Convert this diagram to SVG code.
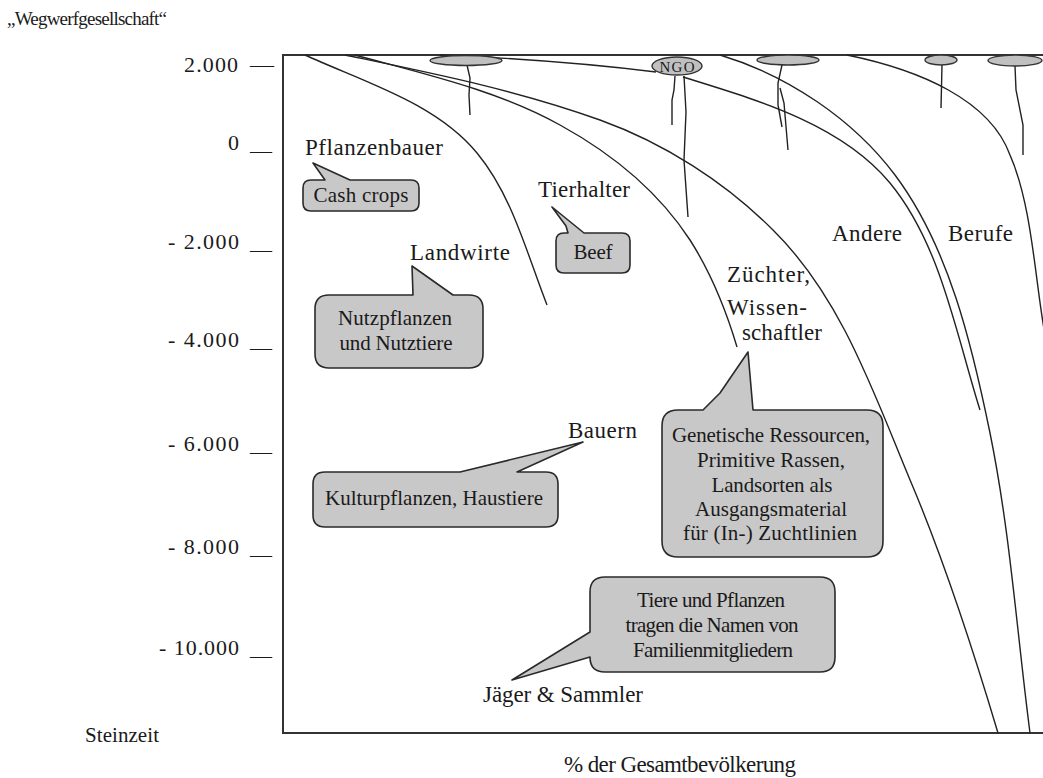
<svg xmlns="http://www.w3.org/2000/svg" width="1043" height="778" viewBox="0 0 1043 778">
<style>
.t{font-family:"Liberation Serif","Times New Roman",serif;fill:#1a1a1a}
.lab{font-size:23px}
.bt{font-size:21px;text-anchor:middle}
.ax{font-size:22px}
.ln{fill:none;stroke:#222;stroke-width:1.4}
.bub{fill:#c8c8c8;stroke:#2a2a2a;stroke-width:1.6;stroke-linejoin:round}
.ov{fill:#c0c0c0;stroke:#333;stroke-width:1.4}
.frame{fill:none;stroke:#333;stroke-width:2}
</style>
<rect width="1043" height="778" fill="#ffffff"/>

<g id="axis">
<text class="t" x="7" y="25" font-size="19" textLength="160" lengthAdjust="spacing">„Wegwerfgesellschaft“</text>
<text class="t ax" x="184" y="72" textLength="54" lengthAdjust="spacing">2.000</text>
<text class="t ax" x="250" y="72" textLength="24" lengthAdjust="spacingAndGlyphs">—</text>
<text class="t ax" x="228" y="150">0</text>
<text class="t ax" x="250" y="150" textLength="22" lengthAdjust="spacingAndGlyphs">__</text>
<text class="t ax" x="168" y="249" textLength="71" lengthAdjust="spacing">- 2.000</text>
<text class="t ax" x="250" y="249" textLength="22" lengthAdjust="spacingAndGlyphs">__</text>
<text class="t ax" x="168" y="347" textLength="71" lengthAdjust="spacing">- 4.000</text>
<text class="t ax" x="250" y="347" textLength="22" lengthAdjust="spacingAndGlyphs">__</text>
<text class="t ax" x="168" y="451" textLength="71" lengthAdjust="spacing">- 6.000</text>
<text class="t ax" x="250" y="451" textLength="22" lengthAdjust="spacingAndGlyphs">__</text>
<text class="t ax" x="168" y="554" textLength="71" lengthAdjust="spacing">- 8.000</text>
<text class="t ax" x="250" y="554" textLength="22" lengthAdjust="spacingAndGlyphs">__</text>
<text class="t ax" x="159" y="655" textLength="80" lengthAdjust="spacing">- 10.000</text>
<text class="t ax" x="250" y="655" textLength="22" lengthAdjust="spacingAndGlyphs">__</text>
<text class="t" x="85" y="742" font-size="21" textLength="74" lengthAdjust="spacing">Steinzeit</text>
<text class="t lab" x="564" y="772" textLength="232" lengthAdjust="spacing">% der Gesamtbevölkerung</text>
</g>

<g id="frame">
<path class="frame" d="M1043,55 L283,55 L283,733 L1043,733"/>
</g>

<g id="connectors">
<path class="ln" d="M305,55 C364,82 436,103 477,153 C512,195 527,254 547,305"/>
<path class="ln" d="M355,55 C424,74 497,90 560,125 C611,153 658,191 690,240 C711,273 726,310 737,347"/>
<path class="ln" d="M345,55 C431,73 517,90 600,120 C664,143 725,182 773,230 C843,299 875,397 913,487 C944,561 975,656 998,733"/>
<path class="ln" d="M440,55 Q560,60 656,72"/>
<path class="ln" d="M683,77 C757,100 841,124 890,183 C941,245 956,334 980,410"/>
<path class="ln" d="M720,55 C787,75 853,119 895,175 C949,247 972,345 990,433 C1010,531 1017,633 1030,733"/>
<path class="ln" d="M847,55 C920,70 990,100 1010,155 C1032,205 1035,280 1045,335"/>
<path class="ln" d="M467,65 L470,78 L469,95 L470,115"/>
<path class="ln" d="M675,76 L674,90 L672,100 L672,125"/>
<path class="ln" d="M684,76 L686,112 L684,160 L688,217"/>
<path class="ln" d="M782,65 L778,83 L778,105 L782,127"/>
<path class="ln" d="M780,88 L784,103 L788,150"/>
<path class="ln" d="M942,65 L941,108"/>
<path class="ln" d="M1015,66 L1016,90 L1023,125 L1023,155"/>
</g>

<g id="roots-ovals">
<ellipse class="ov" cx="466" cy="60.5" rx="36" ry="5"/>
<ellipse class="ov" cx="788" cy="60" rx="31" ry="5"/>
<ellipse class="ov" cx="941" cy="60" rx="16" ry="5"/>
<ellipse class="ov" cx="1015" cy="60.5" rx="27" ry="5.5"/>
</g>

<g id="ngo">
<ellipse class="ov" cx="677" cy="66" rx="25" ry="9"/>
<text class="t" x="677" y="71.5" font-size="15" text-anchor="middle" textLength="35" lengthAdjust="spacing">NGO</text>
</g>

<g id="pflanzenbauer">
<text class="t lab" x="305" y="155" textLength="138" lengthAdjust="spacing">Pflanzenbauer</text>
<path class="bub" d="M311,180 L325,180 L313,163 L350,180 L411,180 Q419,180 419,188 L419,203 Q419,211 411,211 L311,211 Q303,211 303,203 L303,188 Q303,180 311,180 Z"/>
<text class="t bt" x="361" y="202" textLength="95" lengthAdjust="spacing">Cash crops</text>
</g>

<g id="tierhalter">
<text class="t lab" x="538" y="197" textLength="92" lengthAdjust="spacing">Tierhalter</text>
<path class="bub" d="M564,233 L568,233 L566,226 L552,207 L584,233 L622,233 Q630,233 630,241 L630,265 Q630,273 622,273 L564,273 Q556,273 556,265 L556,241 Q556,233 564,233 Z"/>
<text class="t bt" x="593" y="259" textLength="39" lengthAdjust="spacing">Beef</text>
</g>

<g id="landwirte">
<text class="t lab" x="410" y="260" textLength="100" lengthAdjust="spacing">Landwirte</text>
<path class="bub" d="M329,295 L413,295 L412,266 L453,295 L469,295 Q483,295 483,309 L483,354 Q483,368 469,368 L329,368 Q315,368 315,354 L315,309 Q315,295 329,295 Z"/>
<text class="t bt" x="395" y="325" textLength="114" lengthAdjust="spacing">Nutzpflanzen</text>
<text class="t bt" x="396" y="350" textLength="113" lengthAdjust="spacing">und Nutztiere</text>
</g>

<g id="bauern">
<text class="t lab" x="568" y="438" textLength="69" lengthAdjust="spacing">Bauern</text>
<path class="bub" d="M325,472 L460,472 Q530,455 583,442 L517,472 L546,472 Q558,472 558,484 L558,515 Q558,527 546,527 L325,527 Q313,527 313,515 L313,484 Q313,472 325,472 Z"/>
<text class="t bt" x="434" y="505" textLength="218" lengthAdjust="spacing">Kulturpflanzen, Haustiere</text>
</g>

<g id="zuechter">
<text class="t lab" x="727" y="282" textLength="83" lengthAdjust="spacing">Züchter,</text>
<text class="t lab" x="727" y="315" textLength="80" lengthAdjust="spacing">Wissen-</text>
<text class="t lab" x="742" y="340" textLength="80" lengthAdjust="spacing">schaftler</text>
<path class="bub" d="M678,410 L703,410 L720,393 L748,352 L753,410 L867,410 Q883,410 883,426 L883,541 Q883,557 867,557 L678,557 Q662,557 662,541 L662,426 Q662,410 678,410 Z"/>
<text class="t bt" x="771" y="442" textLength="198" lengthAdjust="spacing">Genetische Ressourcen,</text>
<text class="t bt" x="771" y="467" textLength="148" lengthAdjust="spacing">Primitive Rassen,</text>
<text class="t bt" x="772" y="492" textLength="121" lengthAdjust="spacing">Landsorten als</text>
<text class="t bt" x="771" y="516" textLength="152" lengthAdjust="spacing">Ausgangsmaterial</text>
<text class="t bt" x="770" y="540" textLength="174" lengthAdjust="spacing">für (In-) Zuchtlinien</text>
</g>

<g id="andere-berufe">
<text class="t lab" x="832" y="241" textLength="70" lengthAdjust="spacing">Andere</text>
<text class="t lab" x="948" y="241" textLength="65" lengthAdjust="spacing">Berufe</text>
</g>

<g id="jaeger">
<text class="t lab" x="483" y="702" textLength="160" lengthAdjust="spacing">Jäger &amp; Sammler</text>
<path class="bub" d="M605,577 L820,577 Q835,577 835,592 L835,657 Q835,672 820,672 L605,672 Q590,672 590,657 L512,680 L590,632 L590,592 Q590,577 605,577 Z"/>
<text class="t bt" x="711" y="607" textLength="148" lengthAdjust="spacing">Tiere und Pflanzen</text>
<text class="t bt" x="712" y="632" textLength="173" lengthAdjust="spacing">tragen die Namen von</text>
<text class="t bt" x="713" y="657" textLength="160" lengthAdjust="spacing">Familienmitgliedern</text>
</g>
</svg>
